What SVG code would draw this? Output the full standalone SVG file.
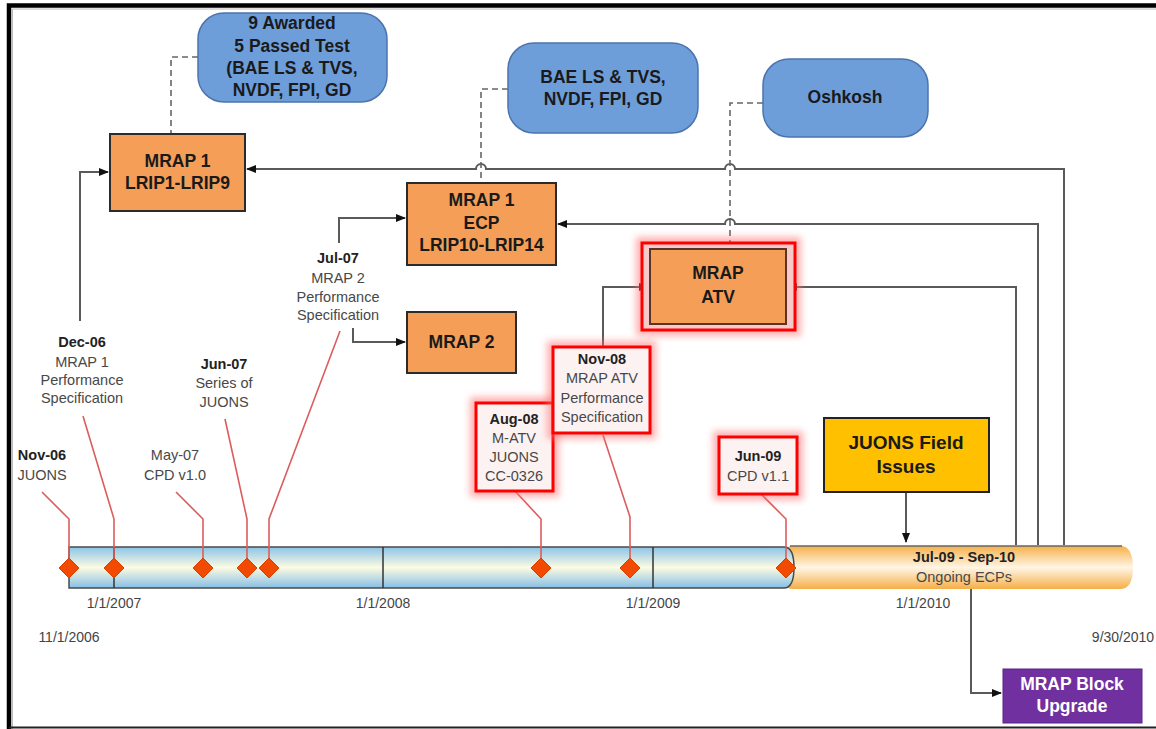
<svg xmlns="http://www.w3.org/2000/svg" width="1156" height="729" viewBox="0 0 1156 729">
<defs>
<style>
.nb{font-family:"Liberation Sans",Arial,sans-serif;font-weight:bold;font-size:17.5px;fill:#1a1a1a;text-anchor:middle}
.tl{font-family:"Liberation Sans",Arial,sans-serif;font-size:14.5px;fill:#484848;text-anchor:middle}
.tb{font-family:"Liberation Sans",Arial,sans-serif;font-size:14.5px;font-weight:bold;fill:#222;text-anchor:middle}
.ax{font-family:"Liberation Sans",Arial,sans-serif;font-size:14px;fill:#444;text-anchor:middle}
.blue{fill:#6E9EDA;stroke:#4B74AD;stroke-width:1.5}
.org{fill:#F59E58;stroke:#2b2b2b;stroke-width:2}
.con{fill:none;stroke:#5a5a5a;stroke-width:2}
.dash{fill:none;stroke:#666;stroke-width:1.6;stroke-dasharray:6 4}
.lead{fill:none;stroke:#DD5C5C;stroke-width:1.6}
.dia{fill:#F24A00;stroke:#D84000;stroke-width:1}
.hl{fill:#FDF2F2;stroke:#FF0000;stroke-width:3}
.glow{fill:none;stroke:#FF7070;stroke-width:12;opacity:0.55}
</style>
<marker id="ar" markerWidth="10" markerHeight="10" refX="9" refY="5" orient="auto" markerUnits="userSpaceOnUse">
<path d="M0,1 L10,5 L0,9 Z" fill="#111"/>
</marker>
<filter id="blur" x="-20%" y="-20%" width="140%" height="140%">
<feGaussianBlur stdDeviation="3.5"/>
</filter>
<linearGradient id="gBlue" x1="0" y1="0" x2="0" y2="1">
<stop offset="0" stop-color="#8CC4E8"/>
<stop offset="0.5" stop-color="#FDFBE2"/>
<stop offset="1" stop-color="#86BFE6"/>
</linearGradient>
<linearGradient id="gOrg" x1="0" y1="0" x2="0" y2="1">
<stop offset="0" stop-color="#F6B04A"/>
<stop offset="0.5" stop-color="#FFF6E6"/>
<stop offset="1" stop-color="#F6AE46"/>
</linearGradient>
</defs>
<rect width="1156" height="729" fill="#fff"/>
<!-- frame -->
<path d="M9,729 V5.5 H1156" fill="none" stroke="#000" stroke-width="4.5"/>
<path d="M12.5,729 V9 H1156" fill="none" stroke="#bbb" stroke-width="1"/>
<line x1="9" y1="727.5" x2="1156" y2="727.5" stroke="#222" stroke-width="2"/>

<!-- timeline -->
<g id="timeline">
<path d="M792,546 H1120 Q1133,546 1133,567.5 Q1133,589 1120,589 H792 Q782,589 782,567.5 Q782,546 792,546 Z" fill="url(#gOrg)"/>
<line x1="790" y1="546" x2="1122" y2="546" stroke="#666" stroke-width="1.5"/>
<path d="M69,547 H784 Q794,547 794,567.5 Q794,588 784,588 H69 Z" fill="url(#gBlue)" stroke="#4a4a4a" stroke-width="1.5"/>
<line x1="114" y1="547" x2="114" y2="588" stroke="#333" stroke-width="1.5"/>
<line x1="383" y1="547" x2="383" y2="588" stroke="#333" stroke-width="1.5"/>
<line x1="653" y1="547" x2="653" y2="588" stroke="#333" stroke-width="1.5"/>
<text class="tb" x="964" y="562">Jul-09 - Sep-10</text>
<text class="tl" x="964" y="582">Ongoing ECPs</text>
<text class="ax" x="114" y="608">1/1/2007</text>
<text class="ax" x="383" y="608">1/1/2008</text>
<text class="ax" x="653" y="608">1/1/2009</text>
<text class="ax" x="923" y="608">1/1/2010</text>
<text class="ax" x="69" y="642">11/1/2006</text>
<text class="ax" x="1123" y="642">9/30/2010</text>
</g>

<!-- connectors -->
<g id="connectors">
<path class="con" d="M80,321 V172 H108" marker-end="url(#ar)"/>
<path class="con" d="M1064,545 V169 H735 a5,5 0 0 0 -10,0 H486 a5,5 0 0 0 -10,0 H247" marker-end="url(#ar)"/>
<path class="con" d="M1038,545 V224 H735 a5,5 0 0 0 -10,0 H558" marker-end="url(#ar)"/>
<path class="con" d="M1016,545 V287 H788" marker-end="url(#ar)"/>
<path class="con" d="M339,243 V218 H405" marker-end="url(#ar)"/>
<path class="con" d="M353,328 V342 H405" marker-end="url(#ar)"/>
<path class="con" d="M603,347 V287 H648" marker-end="url(#ar)"/>
<path class="con" d="M906,492 V542" marker-end="url(#ar)"/>
<path class="con" d="M971,589 V693 H1001" marker-end="url(#ar)"/>
<path class="dash" d="M198,57 H171 V134"/>
<path class="dash" d="M508,89 H481 V182"/>
<path class="dash" d="M763,103 H730 V247"/>
<!-- leaders -->
<polyline class="lead" points="42,492 69,519 69,560"/>
<polyline class="lead" points="83,416 114,519 114,560"/>
<polyline class="lead" points="176,492 203,519 203,560"/>
<polyline class="lead" points="225,419 247,519 247,560"/>
<polyline class="lead" points="340,331 269,519 269,560"/>
<polyline class="lead" points="515,491 541,519 541,560"/>
<polyline class="lead" points="603,435 630,517 630,560"/>
<polyline class="lead" points="760,493 786,519 786,560"/>
</g>

<!-- diamonds -->
<g id="milestones">
<polygon class="dia" points="69,558 79,568 69,578 59,568"/>
<polygon class="dia" points="114,558 124,568 114,578 104,568"/>
<polygon class="dia" points="203,558 213,568 203,578 193,568"/>
<polygon class="dia" points="247,558 257,568 247,578 237,568"/>
<polygon class="dia" points="269,558 279,568 269,578 259,568"/>
<polygon class="dia" points="541,558 551,568 541,578 531,568"/>
<polygon class="dia" points="630,558 640,568 630,578 620,568"/>
<polygon class="dia" points="786,558 796,568 786,578 776,568"/>
</g>

<!-- nodes -->
<g id="awarded">
<rect class="blue" x="198" y="13" width="189" height="89" rx="26"/>
<text class="nb" x="292" y="29">9 Awarded</text>
<text class="nb" x="292" y="52">5 Passed Test</text>
<text class="nb" x="292" y="74">(BAE LS &amp; TVS,</text>
<text class="nb" x="292" y="96">NVDF, FPI, GD</text>
</g>
<g id="bae">
<rect class="blue" x="508" y="43" width="190" height="90" rx="26"/>
<text class="nb" x="603" y="83">BAE LS &amp; TVS,</text>
<text class="nb" x="603" y="105">NVDF, FPI, GD</text>
</g>
<g id="oshkosh">
<rect class="blue" x="763" y="59" width="165" height="78" rx="26"/>
<text class="nb" x="845" y="103">Oshkosh</text>
</g>
<g id="mrap1">
<rect class="org" x="110" y="134" width="135" height="77"/>
<text class="nb" x="177.5" y="167">MRAP 1</text>
<text class="nb" x="177.5" y="189">LRIP1-LRIP9</text>
</g>
<g id="ecp">
<rect class="org" x="407" y="183" width="149" height="82"/>
<text class="nb" x="481.5" y="206">MRAP 1</text>
<text class="nb" x="481.5" y="229">ECP</text>
<text class="nb" x="481.5" y="251">LRIP10-LRIP14</text>
</g>
<g id="mrap2">
<rect class="org" x="407" y="312" width="109" height="61"/>
<text class="nb" x="461.5" y="348">MRAP 2</text>
</g>
<g id="atv">
<rect class="glow" x="642" y="243" width="153" height="87" filter="url(#blur)"/>
<rect x="642" y="243" width="153" height="87" fill="#F8C9C9" stroke="#FF0000" stroke-width="3"/>
<rect x="650" y="249" width="136" height="75" fill="#F59E58" stroke="#5a3525" stroke-width="2"/>
<text class="nb" x="718" y="279">MRAP</text>
<text class="nb" x="718" y="303">ATV</text>
</g>
<g id="juons-field">
<rect x="824" y="418" width="165" height="74" fill="#FFC000" stroke="#222" stroke-width="2"/>
<text class="nb" x="906" y="449" style="font-size:19px">JUONS Field</text>
<text class="nb" x="906" y="473" style="font-size:19px">Issues</text>
</g>
<g id="block-upgrade">
<rect x="1003" y="669" width="139" height="54" fill="#7030A0" stroke="#5a2385" stroke-width="1"/>
<text class="nb" x="1072" y="690" style="fill:#fff">MRAP Block</text>
<text class="nb" x="1072" y="712" style="fill:#fff">Upgrade</text>
</g>

<!-- event labels -->
<g id="nov06">
<text class="tb" x="42" y="460">Nov-06</text>
<text class="tl" x="42" y="480">JUONS</text>
</g>
<g id="dec06">
<text class="tb" x="82" y="347">Dec-06</text>
<text class="tl" x="82" y="367">MRAP 1</text>
<text class="tl" x="82" y="385">Performance</text>
<text class="tl" x="82" y="403">Specification</text>
</g>
<g id="may07">
<text class="tl" x="175" y="460">May-07</text>
<text class="tl" x="175" y="480">CPD v1.0</text>
</g>
<g id="jun07">
<text class="tb" x="224" y="369">Jun-07</text>
<text class="tl" x="224" y="388">Series of</text>
<text class="tl" x="224" y="407">JUONS</text>
</g>
<g id="jul07">
<text class="tb" x="338" y="263">Jul-07</text>
<text class="tl" x="338" y="283">MRAP 2</text>
<text class="tl" x="338" y="302">Performance</text>
<text class="tl" x="338" y="320">Specification</text>
</g>
<g id="aug08">
<rect class="glow" x="476" y="403" width="77" height="88" filter="url(#blur)"/>
<rect class="hl" x="476" y="403" width="77" height="88"/>
<text class="tb" x="514" y="424">Aug-08</text>
<text class="tl" x="514" y="443">M-ATV</text>
<text class="tl" x="514" y="462">JUONS</text>
<text class="tl" x="514" y="481">CC-0326</text>
</g>
<g id="nov08">
<rect class="glow" x="553" y="347" width="97" height="86" filter="url(#blur)"/>
<rect class="hl" x="553" y="347" width="97" height="86"/>
<text class="tb" x="602" y="364">Nov-08</text>
<text class="tl" x="602" y="383">MRAP ATV</text>
<text class="tl" x="602" y="403">Performance</text>
<text class="tl" x="602" y="422">Specification</text>
</g>
<g id="jun09">
<rect class="glow" x="719" y="437" width="78" height="57" filter="url(#blur)"/>
<rect class="hl" x="719" y="437" width="78" height="57"/>
<text class="tb" x="758" y="461">Jun-09</text>
<text class="tl" x="758" y="481">CPD v1.1</text>
</g>
</svg>
